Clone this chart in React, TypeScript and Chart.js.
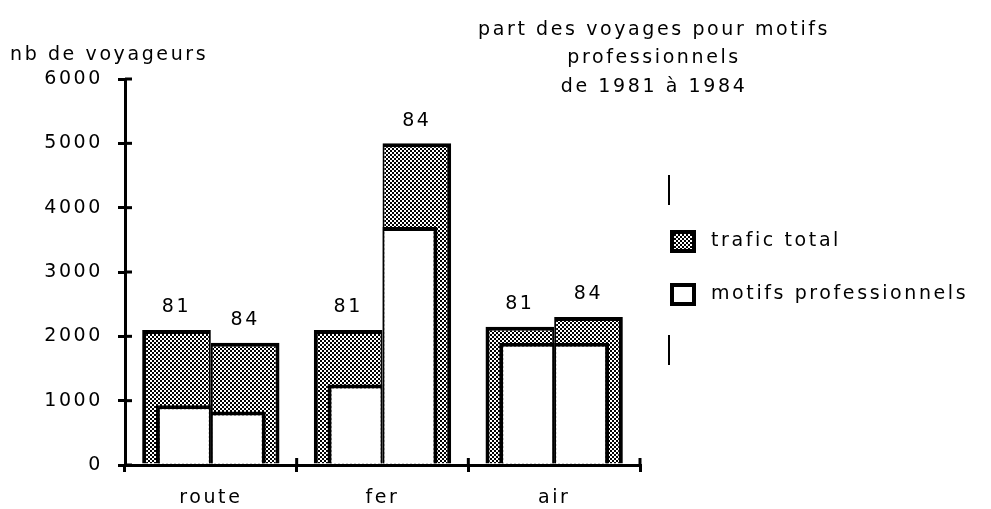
import React, { useEffect, useRef } from 'react';
import { Chart, registerables } from 'chart.js';

Chart.register(...registerables);

const categories = ['route', 'fer', 'air'];
const years = ['81', '84'];
const total81 = [2100, 2100, 2150];
const total84 = [1900, 5000, 2300];
const pro81 = [930, 1250, 1900];
const pro84 = [830, 3700, 1900];
const yMax = 6000;
const yStep = 1000;
const titleLines = ['part des voyages pour motifs', 'professionnels', 'de 1981 à 1984'];
const yTitle = 'nb de voyageurs';
const legendLabels = ['trafic total', 'motifs professionnels'];

const FONT = '"DejaVu Sans", sans-serif';
const FS = 19;
const LS = '2.6px';

function makePattern(): CanvasPattern | string {
  const c = document.createElement('canvas');
  c.width = 4;
  c.height = 4;
  const g = c.getContext('2d');
  if (!g) return '#888';
  g.fillStyle = '#fff';
  g.fillRect(0, 0, 4, 4);
  g.fillStyle = '#000';
  g.fillRect(0, 0, 2, 2);
  g.fillRect(2, 2, 2, 2);
  return g.createPattern(c, 'repeat') || '#888';
}

export default function App() {
  const ref = useRef<HTMLCanvasElement | null>(null);

  useEffect(() => {
    if (!ref.current) return;
    const pat = makePattern();
    const setSpacing = (chart: any) => {
      try { chart.ctx.letterSpacing = LS; } catch (e) { /* ignore */ }
    };
    const decor = {
      id: 'decor',
      beforeUpdate: setSpacing,
      beforeLayout: setSpacing,
      beforeDraw: setSpacing,
      afterDatasetsDraw(chart: any) {
        const ctx = chart.ctx;
        ctx.save();
        ctx.letterSpacing = LS;
        ctx.font = `${FS}px ${FONT}`;
        ctx.fillStyle = '#000';
        ctx.textAlign = 'center';
        ctx.textBaseline = 'bottom';
        [0, 1].forEach((di) => {
          const meta = chart.getDatasetMeta(di);
          meta.data.forEach((bar: any) => {
            ctx.fillText(years[di], bar.x, bar.y - 13);
          });
        });
        ctx.restore();
      },
      afterDraw(chart: any) {
        const ctx = chart.ctx;
        const ys = chart.scales.y;
        const xs = chart.scales.x;
        const area = chart.chartArea;
        ctx.save();
        ctx.strokeStyle = '#000';
        ctx.lineWidth = 3;
        // inner halves of y ticks
        ys.ticks.forEach((_t: any, i: number) => {
          const py = ys.getPixelForTick(i);
          ctx.beginPath();
          ctx.moveTo(ys.right, py);
          ctx.lineTo(ys.right + 7, py);
          ctx.stroke();
        });
        // upper halves of x boundary ticks
        const half = (xs.getPixelForValue(1) - xs.getPixelForValue(0)) / 2;
        for (let i = 0; i < categories.length; i++) {
          const px = xs.getPixelForValue(i) + half;
          ctx.beginPath();
          ctx.moveTo(px, xs.top);
          ctx.lineTo(px, xs.top - 7);
          ctx.stroke();
        }
        // legend
        const bx = area.right + 30;
        const centers = [241, 294];
        const fills: any[] = [pat, '#fff'];
        ctx.font = `${FS}px ${FONT}`;
        ctx.letterSpacing = LS;
        ctx.textAlign = 'left';
        ctx.textBaseline = 'middle';
        legendLabels.forEach((lab, i) => {
          const cy = centers[i];
          ctx.fillStyle = '#000';
          ctx.fillRect(bx, cy - 11, 26, 23);
          ctx.fillStyle = fills[i];
          ctx.fillRect(bx + 4, cy - 7, 18, 15);
          ctx.fillStyle = '#000';
          ctx.fillText(lab, bx + 41, cy);
        });
        // decorative strokes near legend
        ctx.lineWidth = 2;
        ctx.beginPath();
        ctx.moveTo(bx - 1, 175);
        ctx.lineTo(bx - 1, 205);
        ctx.moveTo(bx - 1, 335);
        ctx.lineTo(bx - 1, 365);
        ctx.stroke();
        // titles
        ctx.fillStyle = '#000';
        ctx.textAlign = 'center';
        titleLines.forEach((t, i) => ctx.fillText(t, chart.width * 0.66, 30 + i * 28.5));
        ctx.textAlign = 'left';
        ctx.fillText(yTitle, 10, 55);
        ctx.restore();
      },
    };

    const tickFont = { family: FONT, size: FS };
    const chart = new Chart(ref.current, {
      type: 'bar',
      data: {
        labels: categories,
        datasets: [
          {
            label: legendLabels[0], data: total81, stack: 'a', backgroundColor: pat as any,
            borderColor: '#000', borderWidth: { top: 4, left: 4, right: 2, bottom: 0 },
            categoryPercentage: 0.8, barPercentage: 1, order: 2,
          },
          {
            label: legendLabels[0], data: total84, stack: 'b', backgroundColor: pat as any,
            borderColor: '#000', borderWidth: { top: 4, left: 2, right: 4, bottom: 0 },
            categoryPercentage: 0.8, barPercentage: 1, order: 2,
          },
          {
            label: legendLabels[1], data: pro81, stack: 'a', backgroundColor: '#fff',
            borderColor: '#000', borderWidth: { top: 4, left: 4, right: 2, bottom: 0 },
            categoryPercentage: 0.64, barPercentage: 1, order: 1,
          },
          {
            label: legendLabels[1], data: pro84, stack: 'b', backgroundColor: '#fff',
            borderColor: '#000', borderWidth: { top: 4, left: 2, right: 4, bottom: 0 },
            categoryPercentage: 0.64, barPercentage: 1, order: 1,
          },
        ],
      },
      options: {
        animation: false,
        responsive: true,
        maintainAspectRatio: false,
        layout: { padding: { top: 79, left: 0, right: 351, bottom: 0 } },
        plugins: {
          tooltip: { enabled: false },
          legend: { display: false },
        },
        scales: {
          x: {
            type: 'category',
            offset: true,
            stacked: true,
            z: 1,
            border: { color: '#000', width: 3 },
            grid: { offset: true, drawOnChartArea: false, drawTicks: true, tickLength: 7, lineWidth: 3, color: '#000' },
            ticks: { font: tickFont, color: '#000', padding: 15 },
            afterFit: (s: any) => { s.height = 44; },
          },
          y: {
            min: 0,
            max: yMax,
            stacked: false,
            border: { color: '#000', width: 3 },
            grid: { drawOnChartArea: false, drawTicks: true, tickLength: 7, lineWidth: 3, color: '#000' },
            ticks: { stepSize: yStep, font: tickFont, color: '#000', padding: 15, callback: (v: any) => String(v) },
            afterFit: (s: any) => { s.width = 125; },
          },
        },
      },
      plugins: [decor],
    });
    return () => chart.destroy();
  }, []);

  return (
    <div style={{ position: 'absolute', left: 0, top: 0, width: 991, height: 509, background: '#fff' }}>
      <canvas ref={ref} style={{ display: 'block' }} />
    </div>
  );
}
